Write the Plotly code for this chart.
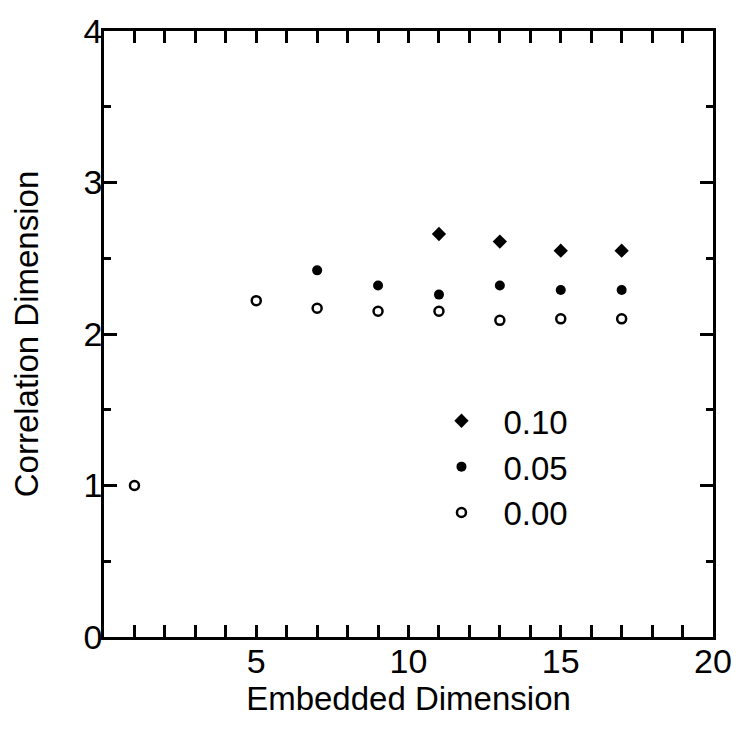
import plotly.graph_objects as go

# Data
x_000 = [1, 5, 7, 9, 11, 13, 15, 17]
y_000 = [1.00, 2.22, 2.17, 2.15, 2.15, 2.09, 2.10, 2.10]

x_005 = [7, 9, 11, 13, 15, 17]
y_005 = [2.42, 2.32, 2.26, 2.32, 2.29, 2.29]

x_010 = [11, 13, 15, 17]
y_010 = [2.66, 2.61, 2.55, 2.55]

series_names = ["0.10", "0.05", "0.00"]
x_ticks = [5, 10, 15, 20]
y_ticks = [0, 1, 2, 3, 4]

FONT = "Liberation Sans, Arial, Helvetica, sans-serif"

fig = go.Figure()
fig.add_trace(go.Scatter(x=x_010, y=y_010, mode="markers", name=series_names[0],
                         legendgroup="a",
                         marker=dict(symbol="diamond", size=11, color="black")))
fig.add_trace(go.Scatter(x=x_005, y=y_005, mode="markers", name=series_names[1],
                         legendgroup="b",
                         marker=dict(symbol="circle", size=10, color="black")))
fig.add_trace(go.Scatter(x=x_000, y=y_000, mode="markers", name=series_names[2],
                         legendgroup="c",
                         marker=dict(symbol="circle-open", size=9, color="black",
                                     line=dict(width=2.5, color="black"))))

axis_common = dict(showline=True, linecolor="black", linewidth=2.5, mirror="ticks",
                   ticks="inside", tickcolor="black", tickwidth=2.5,
                   showgrid=False, zeroline=False,
                   tickfont=dict(family=FONT, size=34, color="black"))

fig.update_xaxes(range=[0, 20], tickvals=x_ticks, ticklen=12,
                 ticklabelstandoff=-8,
                 minor=dict(dtick=1, tick0=0, ticks="inside", ticklen=12,
                            tickwidth=2.5, tickcolor="black", showgrid=False),
                 title=dict(text="Embedded Dimension",
                            font=dict(family=FONT, size=33, color="black"),
                            standoff=8),
                 **axis_common)
fig.update_yaxes(range=[0, 4], tickvals=y_ticks, ticklen=13,
                 ticklabelstandoff=-8,
                 minor=dict(dtick=0.5, tick0=0, ticks="inside", ticklen=7,
                            tickwidth=2.5, tickcolor="black", showgrid=False),
                 title=dict(text="Correlation Dimension",
                            font=dict(family=FONT, size=33, color="black"),
                            standoff=35),
                 **axis_common)

fig.update_layout(
    width=744, height=731,
    margin=dict(l=104, r=22, t=22, b=94),
    paper_bgcolor="white", plot_bgcolor="white",
    showlegend=True,
    legend=dict(x=0.518, y=0.403, xanchor="left", yanchor="top",
                font=dict(family=FONT, size=33, color="black"),
                bgcolor="rgba(0,0,0,0)", tracegroupgap=0,
                itemwidth=74, itemsizing="trace"),
)

fig.write_html("out.html")
